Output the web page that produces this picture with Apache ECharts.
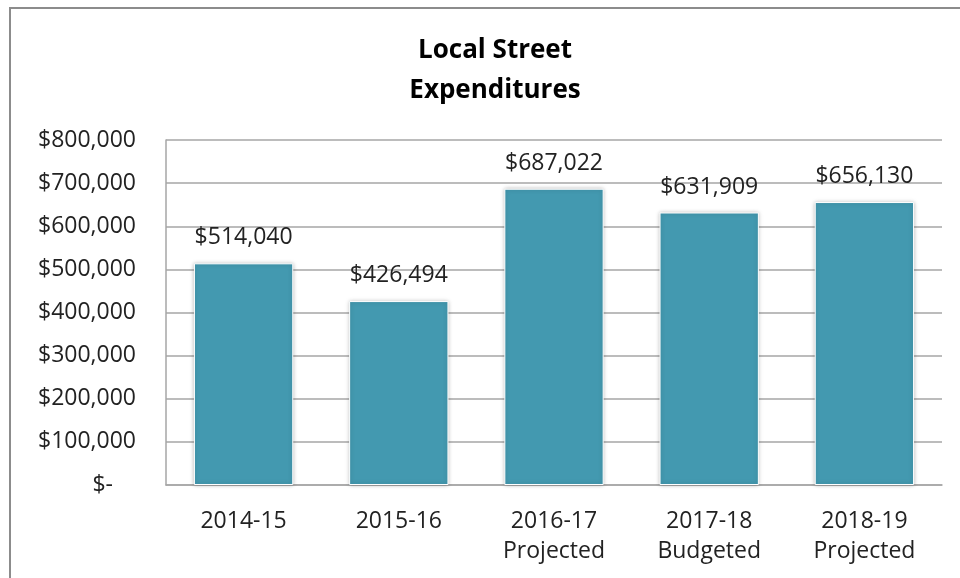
<!DOCTYPE html>
<html>
<head>
<meta charset="utf-8">
<script src="https://cdn.jsdelivr.net/npm/echarts@6/dist/echarts.min.js"></script>
<style>
  html, body { margin: 0; padding: 0; background: #fff; }
  #chart { width: 960px; height: 578px; }
</style>
</head>
<body>
<div id="chart"></div>
<script>
const categories = ['2014-15', '2015-16', '2016-17\nProjected', '2017-18\nBudgeted', '2018-19\nProjected'];
const expenditures = [514040, 426494, 687022, 631909, 656130];
const yTicks = [0, 100000, 200000, 300000, 400000, 500000, 600000, 700000, 800000];

const font = '"Open Sans", "Noto Sans", sans-serif';
const money = v => '$' + v.toLocaleString('en-US');

const myChart = echarts.init(document.getElementById('chart'));
myChart.setOption({
  animation: false,
  textStyle: { fontFamily: font },
  title: {
    text: 'Local Street\nExpenditures',
    left: 490,
    top: 26,
    textAlign: 'center',
    textStyle: { fontSize: 26, fontWeight: 'bold', color: '#000', lineHeight: 40, fontFamily: font }
  },
  graphic: [{
    type: 'rect',
    shape: { x: 10, y: 8, width: 980, height: 600 },
    style: { fill: 'none', stroke: '#8c8c8c', lineWidth: 2 },
    silent: true
  }],
  grid: { left: 166, right: 18, top: 140, bottom: 93 },
  xAxis: {
    type: 'category',
    data: categories,
    axisTick: { show: false },
    axisLine: { lineStyle: { color: '#a6a6a6', width: 1.5 } },
    axisLabel: { color: '#222', fontSize: 23, lineHeight: 30, margin: 21, fontFamily: font }
  },
  yAxis: {
    type: 'value',
    min: 0,
    max: yTicks[yTicks.length - 1],
    interval: 100000,
    axisLine: { show: true, lineStyle: { color: '#a6a6a6', width: 1.5 } },
    axisTick: { show: false },
    splitLine: { lineStyle: { color: '#a6a6a6', width: 1.5 } },
    axisLabel: {
      color: '#222', fontSize: 23, margin: 30, fontFamily: font,
      formatter: v => v === 0 ? '$-\u2002\u2002' : money(v)
    }
  },
  series: [{
    type: 'bar',
    data: expenditures,
    barWidth: '64%',
    itemStyle: {
      color: '#4399b0',
      borderColor: '#ffffff',
      borderWidth: 1,
      shadowColor: 'rgba(0,0,0,0.25)',
      shadowBlur: 4
    },
    label: {
      show: true,
      position: 'top',
      distance: 14,
      color: '#222',
      fontSize: 23,
      fontFamily: font,
      formatter: p => money(p.value)
    }
  }]
});
</script>
</body>
</html>
